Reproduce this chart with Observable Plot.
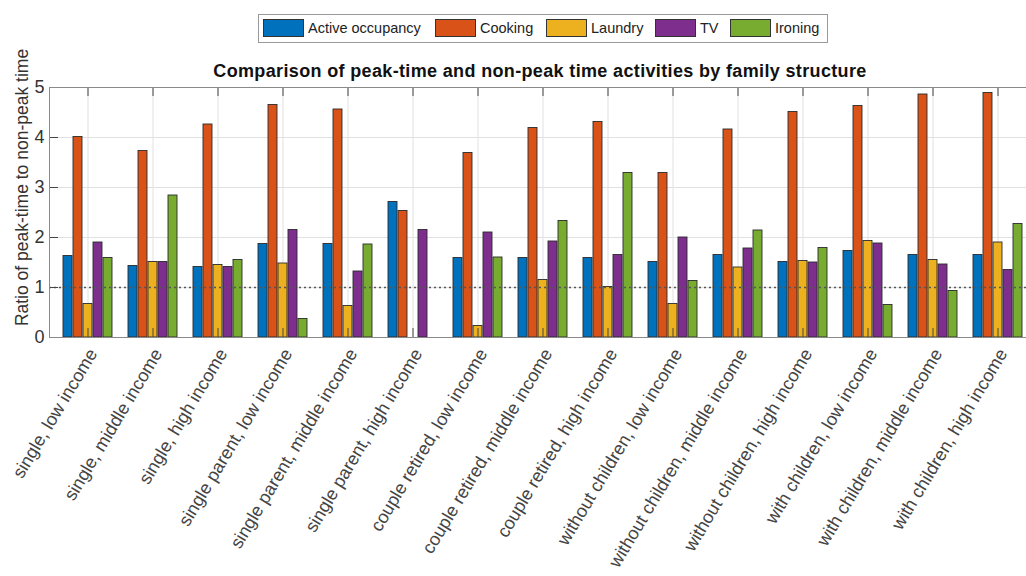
<!DOCTYPE html>
<html><head><meta charset="utf-8">
<script src="https://cdn.jsdelivr.net/npm/d3@7"></script>
<script src="https://cdn.jsdelivr.net/npm/@observablehq/plot@0.6"></script>
<style>
body{margin:0;background:#fff;font-family:"Liberation Sans",Arial,sans-serif;}
#wrap{position:relative;width:1026px;height:576px;overflow:hidden;background:#fff;}
#chart{position:absolute;left:0;top:0;width:1040px;}
#chart svg{max-width:none !important;width:1040px !important;height:576px !important;}
#legend{position:absolute;left:258px;top:14px;width:568px;height:27px;border:1px solid #9a9a9a;background:#fff;}
.item{position:absolute;top:3px;height:20px;display:flex;align-items:center;font-size:14.5px;color:#222;white-space:nowrap;}
.sw{width:41px;height:18px;border:1px solid #333;box-sizing:border-box;margin-right:4px;}
#title{position:absolute;left:0;width:1080px;top:61px;text-align:center;font-weight:bold;font-size:18px;letter-spacing:0.35px;color:#111;}
</style></head>
<body><div id="wrap"><div id="chart"></div><div id="title"></div><div id="legend"></div></div>
<script>
const categories = ["single, low income","single, middle income","single, high income","single parent, low income","single parent, middle income","single parent, high income","couple retired, low income","couple retired, middle income","couple retired, high income","without children, low income","without children, middle income","without children, high income","with children, low income","with children, middle income","with children, high income"];
const seriesNames = ["Active occupancy","Cooking","Laundry","TV","Ironing"];
const seriesColors = ["#0072BD","#D95319","#EDB120","#7E2F8E","#77AC30"];
const activeOccupancy = [1.63,1.43,1.41,1.87,1.87,2.71,1.59,1.59,1.59,1.51,1.65,1.51,1.73,1.65,1.65];
const cooking = [4.01,3.73,4.26,4.65,4.56,2.53,3.69,4.19,4.31,3.29,4.16,4.51,4.63,4.86,4.89];
const laundry = [0.67,1.51,1.45,1.48,0.63,0,0.23,1.15,1.01,0.67,1.40,1.53,1.93,1.55,1.90];
const tv = [1.90,1.51,1.41,2.15,1.32,2.15,2.10,1.92,1.65,2.00,1.78,1.50,1.88,1.46,1.35];
const ironing = [1.59,2.84,1.55,0.37,1.86,0,1.60,2.33,3.29,1.13,2.14,1.79,0.65,0.93,2.27];
const yTicks = [0,1,2,3,4,5];
const titleText = "Comparison of peak-time and non-peak time activities by family structure";
const yLabel = "Ratio of peak-time to non-peak time";
const refLine = [1];

const seriesValues = [activeOccupancy, cooking, laundry, tv, ironing];
const rows = categories.flatMap((c, j) => seriesNames.map((s, i) => ({cat: c, series: s, value: seriesValues[i][j]})));

const W = 1040, H = 576, mL = 49, mR = 4, mT = 87, mB = 239;
const plotW = W - mL - mR, plotH = H - mT - mB;
const step = plotW / categories.length;
const band = step * (1 - 0.24);
const bw = band / 5;

const barMarks = seriesNames.map((s, i) => Plot.barY(rows.filter(d => d.series === s && d.value > 0), {
  x: "cat", y: "value", fill: seriesColors[i], stroke: "#2a2a2a", strokeWidth: 0.9,
  insetLeft: i * bw, insetRight: (4 - i) * bw
}));

const chart = Plot.plot({
  width: W, height: H, marginLeft: mL, marginRight: mR, marginTop: mT, marginBottom: mB,
  style: {fontFamily: "'Liberation Sans', Arial, sans-serif", background: "transparent", maxWidth: "none"},
  x: {type: "band", domain: categories, paddingInner: 0.24, paddingOuter: 0.12, label: null},
  y: {domain: [0, 5], label: null},
  marks: [
    Plot.gridY(yTicks, {stroke: "#e1e1e1", strokeOpacity: 1}),
    Plot.gridX({stroke: "#e1e1e1", strokeOpacity: 1}),
    ...barMarks,
    Plot.ruleY(refLine, {stroke: "#555", strokeWidth: 1.4, strokeDasharray: "2,3"}),
    Plot.tickX(categories, {x: d => d, insetBottom: plotH - 9, stroke: "#444"}),
    Plot.tickX(categories, {x: d => d, insetTop: plotH - 9, stroke: "#444"}),
    Plot.tickY(yTicks, {y: d => d, insetRight: plotW - 9, stroke: "#444"}),
    Plot.tickY(yTicks, {y: d => d, insetLeft: plotW - 9, stroke: "#444"}),
    Plot.frame({stroke: "#8a8a8a"}),
    Plot.axisY(yTicks, {anchor: "left", tickSize: 0, tickPadding: 5, fontSize: 18, fill: "#333", label: null, tickFormat: d3.format("d")}),
    Plot.axisX({anchor: "bottom", tickSize: 0, tickPadding: 13, tickRotate: -59, dx: 5, fontSize: 18, fill: "#444", label: null}),
    Plot.text([yLabel], {text: d => d, frameAnchor: "left", textAnchor: "middle", rotate: -90, dx: -27, dy: -25, fontSize: 17.5, fill: "#333"})
  ]
});
document.getElementById("chart").appendChild(chart);
document.getElementById("title").textContent = titleText;

const legendLefts = [4, 176, 287, 396, 471];
const legend = document.getElementById("legend");
seriesNames.forEach((s, i) => {
  const it = document.createElement("div");
  it.className = "item";
  it.style.left = legendLefts[i] + "px";
  const sw = document.createElement("div");
  sw.className = "sw"; sw.style.background = seriesColors[i];
  const tx = document.createElement("span"); tx.textContent = s;
  it.appendChild(sw); it.appendChild(tx);
  legend.appendChild(it);
});
</script></body></html>
